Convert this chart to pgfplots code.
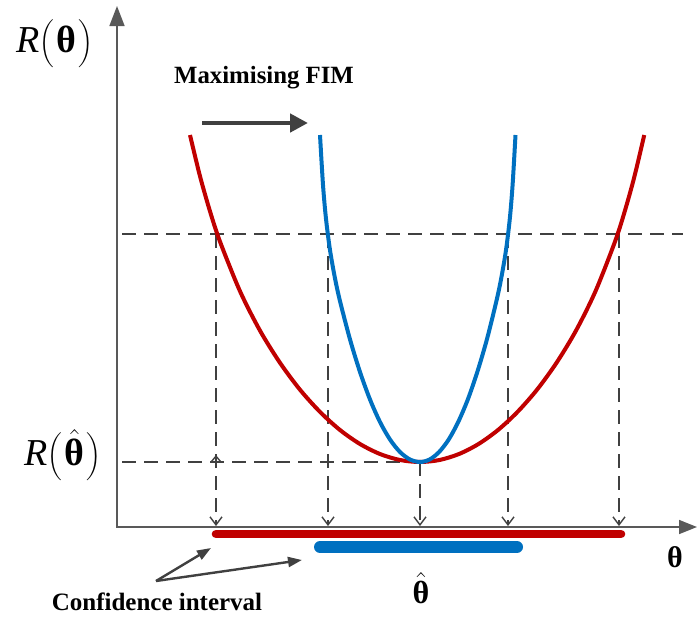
\documentclass[border=0pt]{standalone}
\usepackage{pgfplots}
\pgfplotsset{compat=1.18}
\usepackage{fontspec}
\setmainfont{Liberation Serif}
\usetikzlibrary{arrows.meta}
\definecolor{myred}{HTML}{C00000}
\definecolor{myblue}{HTML}{0070C0}
\definecolor{dgray}{HTML}{404040}
\definecolor{agray}{HTML}{595959}
\newcommand{\lp}{$\left(\rule[-6pt]{0pt}{16pt}\right.$}
\newcommand{\rp}{$\left.\rule[-6pt]{0pt}{16pt}\right)$}
\begin{document}
\begin{tikzpicture}
\begin{axis}[
  scale only axis, width=348.5pt, height=308.5pt,
  xmin=0, xmax=697, ymin=0, ymax=617, y dir=reverse,
  hide axis, clip=false,
  dline/.style={dgray, line width=0.9pt, dash pattern=on 7pt off 4pt},
  vline/.style={dline, -{Straight Barb[length=4pt,width=6pt,line width=0.7pt]}},
]
% horizontal dashed lines
\addplot[dline] coordinates {(122,234) (683,234)};
\addplot[dline] coordinates {(122,462) (420,462)};
% vertical dashed lines with arrows to the axis
\addplot[vline] coordinates {(216,234) (216,526)};
\addplot[vline] coordinates {(328,234) (328,526)};
\addplot[vline] coordinates {(420,462) (420,526)};
\addplot[vline] coordinates {(508,234) (508,526)};
\addplot[vline] coordinates {(619,234) (619,526)};
\addplot[dgray, line width=0.7pt, -{Straight Barb[length=3pt,width=5pt]}] coordinates {(216,468) (216,455)};
% axes
\addplot[agray, line width=0.8pt, {Triangle[length=10pt,width=7.5pt]}-{Triangle[length=9pt,width=7pt]}] coordinates {(117,6) (117,527) (697,527)};
% red curve (wide)
\addplot[myred, line width=2pt, smooth, tension=0.5] table {
190 135
200 176.2
210 211.3
220 241.6
240 291.2
260 330.6
280 362.8
300 389.7
320 411.9
340 430
360 444
380 454
400 460
420 462
439.5 460
459 454
478.5 444
498 430
517.5 411.9
537 389.7
556.5 362.8
576 330.6
595.5 291.2
615 241.6
624.75 211.3
634.5 176.2
644.25 135
};
% blue curve (narrow)
\addplot[myblue, line width=2pt, smooth, tension=0.5] table {
320 135
323 184.9
326 218.8
330 250.1
335 278.4
340 301.1
350 339.4
360 372
370 399.5
380 422
390 439.5
400 452
410 459.5
420 462
429.6 459.5
439.1 452
448.7 439.5
458.2 422
467.8 399.5
477.3 372
486.9 339.4
496.4 301.1
501.2 278.4
506 250.1
509.8 218.8
512.6 184.9
515.5 135
};
% confidence interval bars
\addplot[myred, line width=4.3pt, line cap=round] coordinates {(216,534) (621,534)};
\addplot[myblue, line width=6pt, line cap=round] coordinates {(320,547) (517,547)};
% arrows
\addplot[dgray, line width=2.4pt, -{Triangle[length=9pt,width=9pt]}] coordinates {(202,123) (308,123)};
\addplot[dgray, line width=1.2pt, -{Triangle[length=7pt,width=5pt]}] coordinates {(156,581) (211,548)};
\addplot[dgray, line width=1.2pt, -{Triangle[length=7pt,width=5pt]}] coordinates {(156,581) (302,560)};
% texts
\node[font=\fontsize{19}{22}\selectfont] at (axis cs:55,44) {\textit{R}\lp\textbf{θ}\rp};
\node[font=\fontsize{19}{22}\selectfont] at (axis cs:63,455) {\textit{R}\lp$\hat{\hbox{\textbf{θ}}}$\rp};
\node[font=\fontsize{12.4}{14}\selectfont\bfseries] at (axis cs:264,78) {Maximising FIM};
\node[font=\fontsize{12.5}{14}\selectfont\bfseries] at (axis cs:157,602) {Confidence interval};
\node[font=\fontsize{15}{18}\selectfont] at (axis cs:675,557) {\textbf{θ}};
\node[font=\fontsize{16}{19}\selectfont] at (axis cs:421,588) {$\hat{\hbox{\textbf{θ}}}$};
\end{axis}
\pgfresetboundingbox
\useasboundingbox (current axis.south west) rectangle (current axis.north east);
\end{tikzpicture}
\end{document}
